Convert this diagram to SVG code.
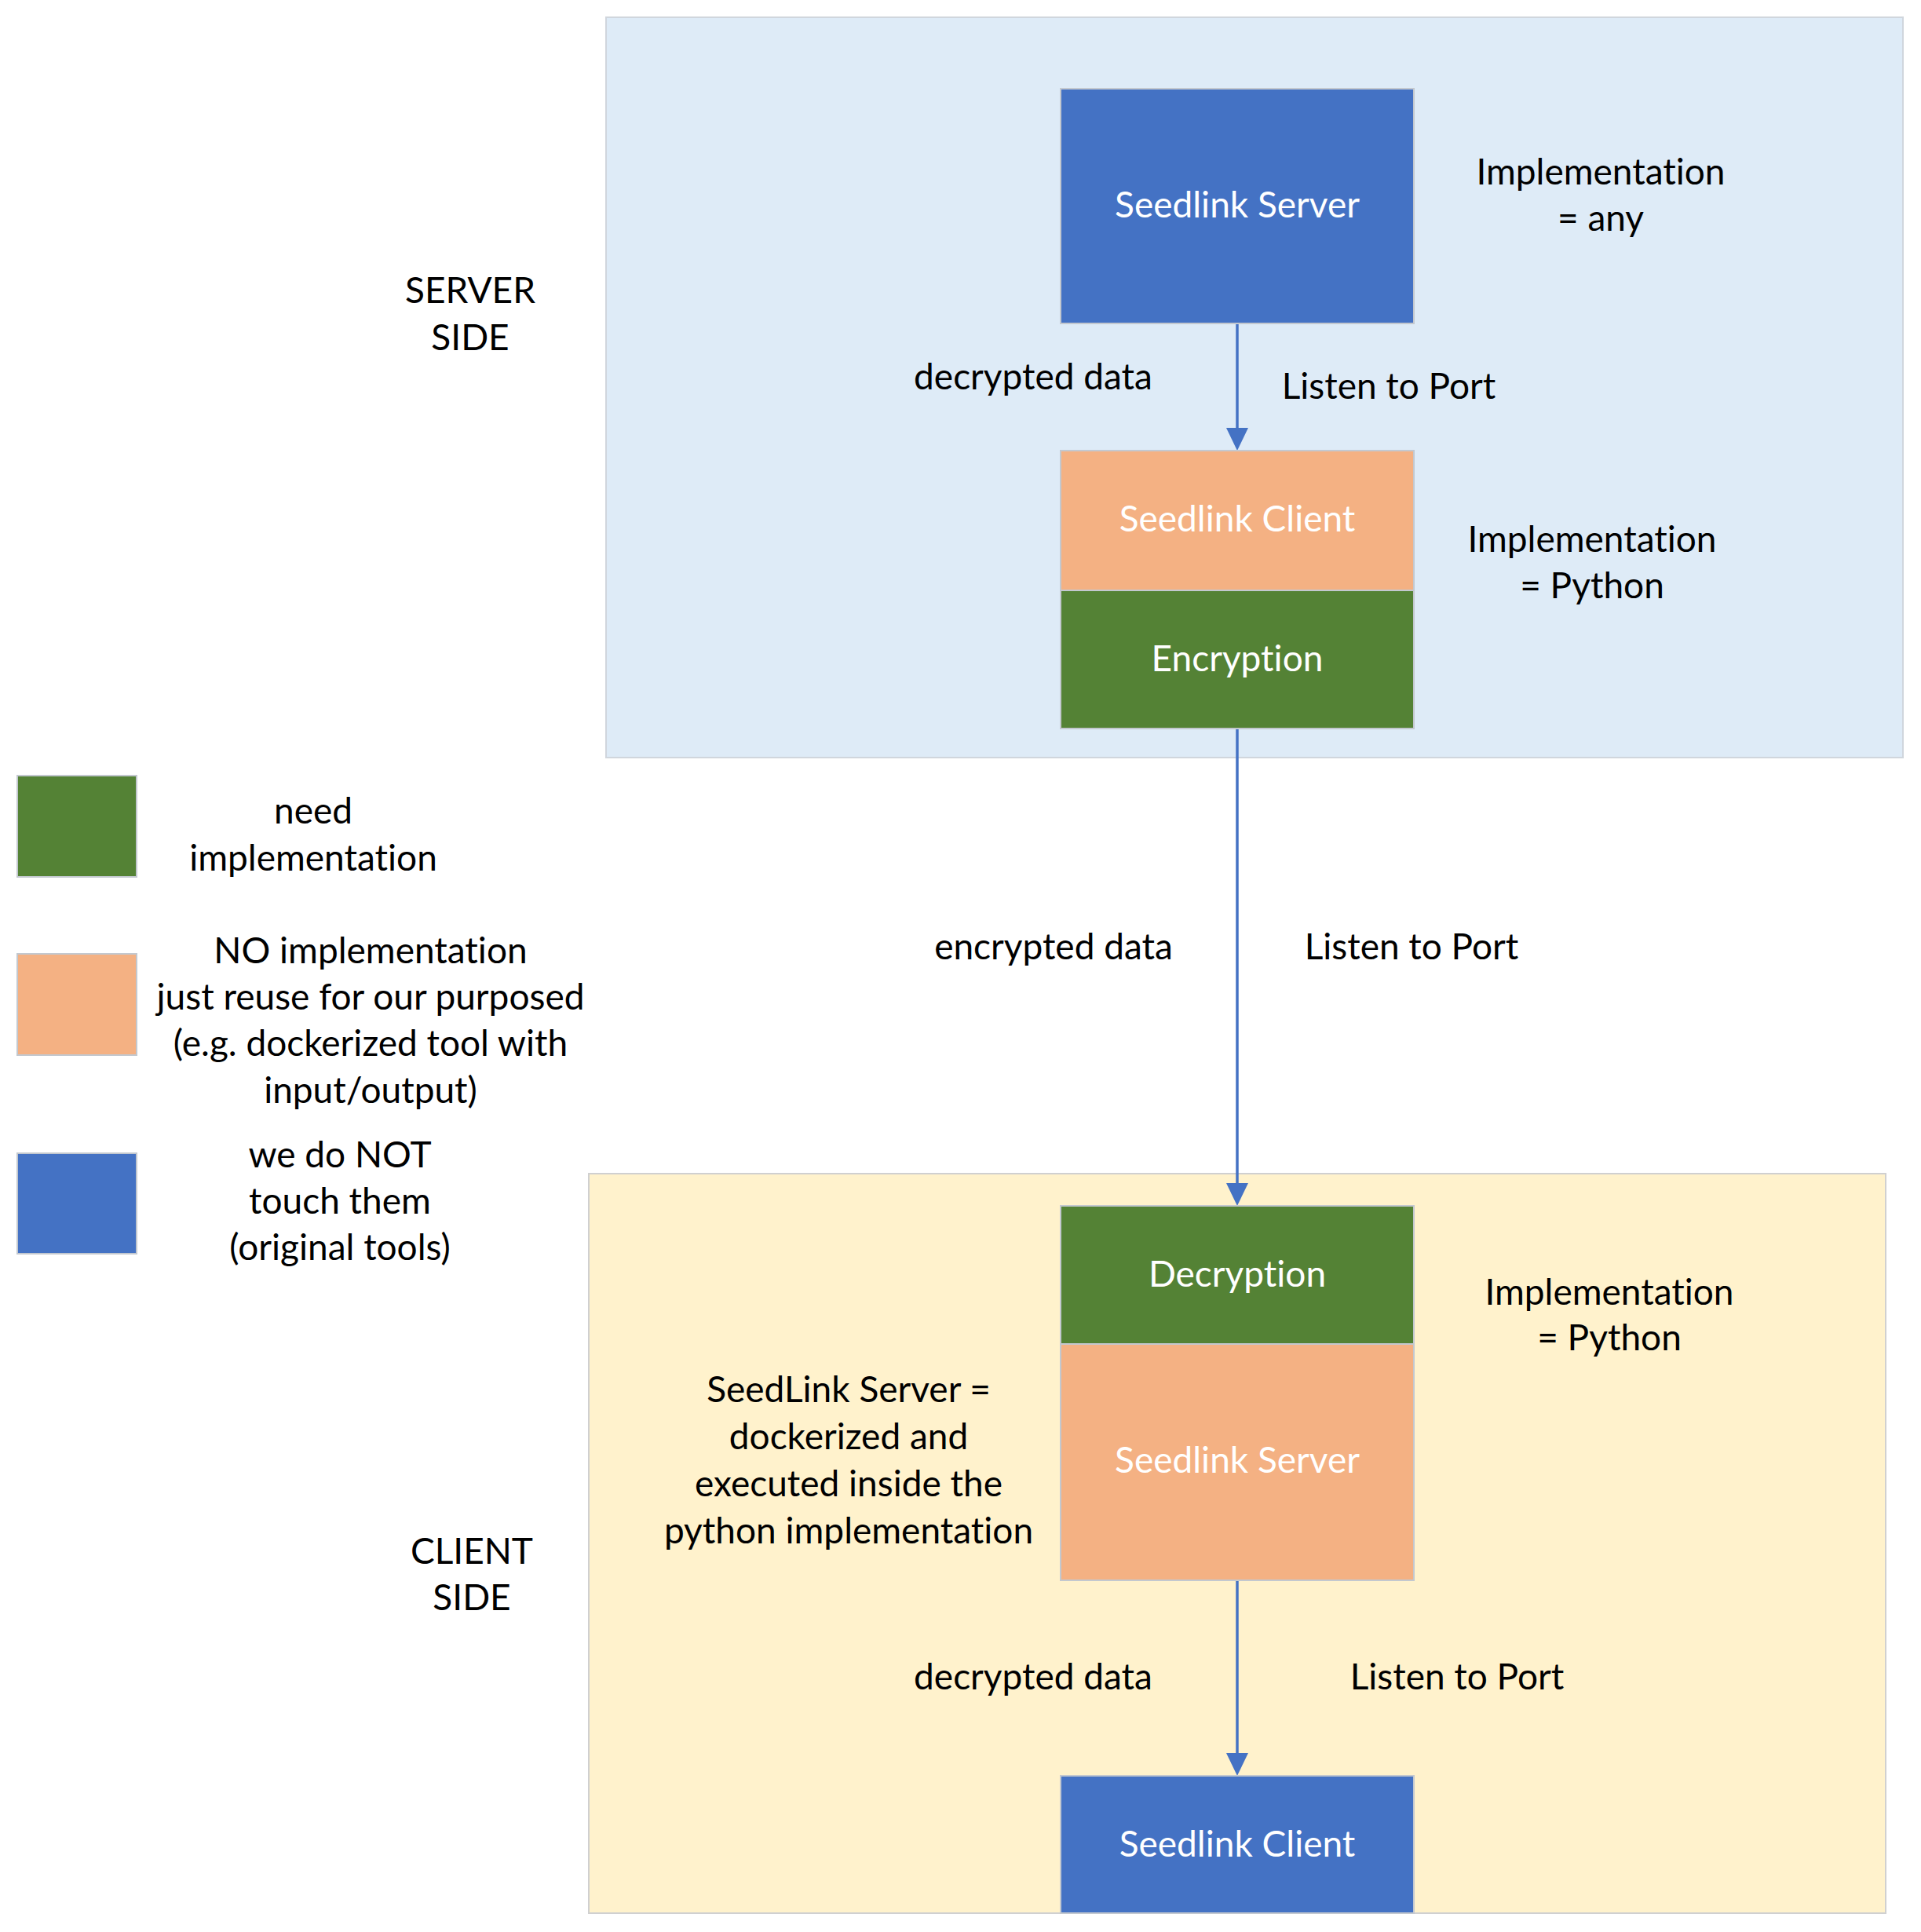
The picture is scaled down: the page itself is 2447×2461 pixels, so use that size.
<svg xmlns="http://www.w3.org/2000/svg" width="2447" height="2461" viewBox="0 0 2447 2461">
  <defs>
    <style>
      text { font-family: Lato, "Open Sans", "Liberation Sans", sans-serif; font-size: 46px; fill: #000000; text-anchor: middle; font-variant-ligatures: none; font-feature-settings: "liga" 0, "clig" 0, "calt" 0, "dlig" 0; }
      text.in { fill: #FFFFFF; }
      .panel-server { fill: #DEEBF7; stroke: #D0D6DD; stroke-width: 2; }
      .panel-client { fill: #FFF2CC; stroke: #D0D0D0; stroke-width: 2; }
      .box { stroke: #C3C8CF; stroke-width: 2; }
      .blue { fill: #4472C4; }
      .green { fill: #548235; }
      .orange { fill: #F4B183; }
      .flow { stroke: #4472C4; stroke-width: 3.5; fill: none; marker-end: url(#head); }
    </style>
    <marker id="head" markerUnits="userSpaceOnUse" markerWidth="30" markerHeight="30" refX="0" refY="15" orient="auto" viewBox="0 0 30 30">
      <path d="M0,1 L29,15 L0,29 Z" fill="#4472C4"/>
    </marker>
  </defs>

  <rect width="2447" height="2461" fill="#FFFFFF"/>

  <!-- side regions -->
  <g id="server-side">
    <rect class="panel-server" x="772" y="22" width="1652" height="943"/>
    <text x="599" y="386">SERVER</text>
    <text x="599" y="446">SIDE</text>
  </g>
  <g id="client-side">
    <rect class="panel-client" x="750" y="1495" width="1652" height="942"/>
    <text x="601" y="1992">CLIENT</text>
    <text x="601" y="2051">SIDE</text>
  </g>

  <!-- connectors -->
  <g id="connectors">
    <line class="flow" x1="1576" y1="412" x2="1576" y2="545"/>
    <line class="flow" x1="1576" y1="928" x2="1576" y2="1507"/>
    <line class="flow" x1="1576" y1="2013" x2="1576" y2="2233"/>
    <text x="1316" y="496">decrypted data</text>
    <text x="1769" y="508">Listen to Port</text>
    <text x="1342" y="1222">encrypted data</text>
    <text x="1798" y="1222">Listen to Port</text>
    <text x="1316" y="2152">decrypted data</text>
    <text x="1856" y="2152">Listen to Port</text>
  </g>

  <!-- server side nodes -->
  <g id="server-seedlink-server">
    <rect class="box blue" x="1351" y="113" width="450" height="299"/>
    <text class="in" x="1576" y="277">Seedlink Server</text>
  </g>
  <g id="server-seedlink-client">
    <rect class="box orange" x="1351" y="574" width="450" height="178"/>
    <text class="in" x="1576" y="677">Seedlink Client</text>
  </g>
  <g id="encryption">
    <rect class="box green" x="1351" y="752" width="450" height="176"/>
    <text class="in" x="1576" y="855">Encryption</text>
  </g>
  <g id="note-any">
    <text x="2039" y="235">Implementation</text>
    <text x="2039" y="294">= any</text>
  </g>
  <g id="note-python-server">
    <text x="2028" y="703">Implementation</text>
    <text x="2028" y="762">= Python</text>
  </g>

  <!-- client side nodes -->
  <g id="decryption">
    <rect class="box green" x="1351" y="1536" width="450" height="176"/>
    <text class="in" x="1576" y="1639">Decryption</text>
  </g>
  <g id="client-seedlink-server">
    <rect class="box orange" x="1351" y="1712" width="450" height="301"/>
    <text class="in" x="1576" y="1876">Seedlink Server</text>
  </g>
  <g id="client-seedlink-client">
    <rect class="box blue" x="1351" y="2262" width="450" height="175"/>
    <text class="in" x="1576" y="2365">Seedlink Client</text>
  </g>
  <g id="note-python-client">
    <text x="2050" y="1662">Implementation</text>
    <text x="2050" y="1720">= Python</text>
  </g>
  <g id="note-docker">
    <text x="1081" y="1786">SeedLink Server =</text>
    <text x="1081" y="1846">dockerized and</text>
    <text x="1081" y="1906">executed inside the</text>
    <text x="1081" y="1966">python implementation</text>
  </g>

  <!-- legend -->
  <g id="legend-need">
    <rect class="box green" x="22" y="988" width="152" height="129"/>
    <text x="399" y="1049">need</text>
    <text x="399" y="1109">implementation</text>
  </g>
  <g id="legend-reuse">
    <rect class="box orange" x="22" y="1215" width="152" height="129"/>
    <text x="472" y="1227">NO implementation</text>
    <text x="472" y="1286">just reuse for our purposed</text>
    <text x="472" y="1345">(e.g. dockerized tool with</text>
    <text x="472" y="1405">input/output)</text>
  </g>
  <g id="legend-original">
    <rect class="box blue" x="22" y="1469" width="152" height="128"/>
    <text x="433" y="1487">we do NOT</text>
    <text x="433" y="1546">touch them</text>
    <text x="433" y="1605">(original tools)</text>
  </g>
</svg>
